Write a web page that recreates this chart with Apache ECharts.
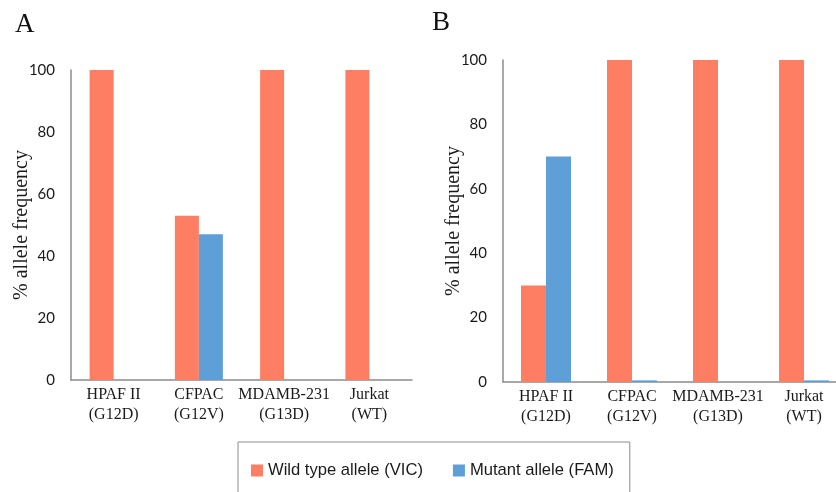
<!DOCTYPE html>
<html>
<head>
<meta charset="utf-8">
<script src="https://cdn.jsdelivr.net/npm/echarts@6/dist/echarts.min.js"></script>
<style>
  html, body { margin: 0; padding: 0; background: #fff; }
  #main { width: 836px; height: 492px; }
</style>
</head>
<body>
<div id="main"></div>
<script>
// data
var cellLines = ["HPAF II\n(G12D)", "CFPAC\n(G12V)", "MDAMB-231\n(G13D)", "Jurkat\n(WT)"];
var yTicks = [0, 20, 40, 60, 80, 100];
var wildA = [100, 53, 100, 100];   // panel A, VIC
var mutA = [0, 47, 0, 0];          // panel A, FAM
var wildB = [30, 100, 100, 100];   // panel B, VIC
var mutB = [70, 0.5, 0, 0.5];      // panel B, FAM

var RED = "#FD7E62";
var BLUE = "#5F9FD8";
var AXIS = "#8c8c8c";

var chart = echarts.init(document.getElementById("main"));

function xAx(idx) {
  return {
    type: "category",
    gridIndex: idx,
    data: cellLines,
    axisLine: { lineStyle: { color: AXIS, width: 1.5 } },
    axisTick: { show: false },
    axisLabel: {
      color: "#1a1a1a",
      fontFamily: "Liberation Serif",
      fontSize: 16,
      lineHeight: 20,
      margin: 5,
      interval: 0
    }
  };
}

function yAx(idx) {
  return {
    type: "value",
    gridIndex: idx,
    min: yTicks[0],
    max: yTicks[yTicks.length - 1],
    interval: 20,
    name: "% allele frequency",
    nameLocation: "middle",
    nameRotate: 90,
    nameGap: 39,
    nameMoveOverlap: false,
    nameTextStyle: { color: "#1a1a1a", fontFamily: "Liberation Serif", fontSize: 20 },
    axisLine: { show: true, lineStyle: { color: AXIS, width: 1.5 } },
    axisTick: { show: false },
    splitLine: { show: false },
    axisLabel: { color: "#1a1a1a", fontFamily: "Lato", fontSize: 15, margin: 16 }
  };
}

var option = {
  animation: false,
  title: [
    { text: "A", left: 10, top: 6, textStyle: { fontFamily: "Liberation Serif", fontSize: 27, fontWeight: "normal", color: "#111" } },
    { text: "B", left: 427, top: 4, textStyle: { fontFamily: "Liberation Serif", fontSize: 27, fontWeight: "normal", color: "#111" } }
  ],
  legend: {
    left: 238,
    top: 442,
    data: ["Wild type allele (VIC)", "Mutant allele (FAM)"],
    icon: "rect",
    itemWidth: 12,
    itemHeight: 12,
    itemGap: 30,
    padding: [20, 16, 40, 13],
    borderColor: "#8c8c8c",
    borderWidth: 1,
    textStyle: { fontFamily: "Liberation Sans", fontSize: 16.6, color: "#1a1a1a" }
  },
  grid: [
    { left: 71, top: 70, width: 341, height: 310, outerBoundsMode: "none" },
    { left: 503, top: 60, width: 344, height: 322, outerBoundsMode: "none" }
  ],
  xAxis: [xAx(0), xAx(1)],
  yAxis: [yAx(0), yAx(1)],
  series: [
    { name: "Wild type allele (VIC)", type: "bar", xAxisIndex: 0, yAxisIndex: 0, data: wildA, barWidth: 24, barGap: "0%", itemStyle: { color: RED } },
    { name: "Mutant allele (FAM)", type: "bar", xAxisIndex: 0, yAxisIndex: 0, data: mutA, barWidth: 24, barGap: "0%", itemStyle: { color: BLUE } },
    { name: "Wild type allele (VIC)", type: "bar", xAxisIndex: 1, yAxisIndex: 1, data: wildB, barWidth: 25, barGap: "0%", itemStyle: { color: RED } },
    { name: "Mutant allele (FAM)", type: "bar", xAxisIndex: 1, yAxisIndex: 1, data: mutB, barWidth: 25, barGap: "0%", itemStyle: { color: BLUE } }
  ]
};

chart.setOption(option);
</script>
</body>
</html>
